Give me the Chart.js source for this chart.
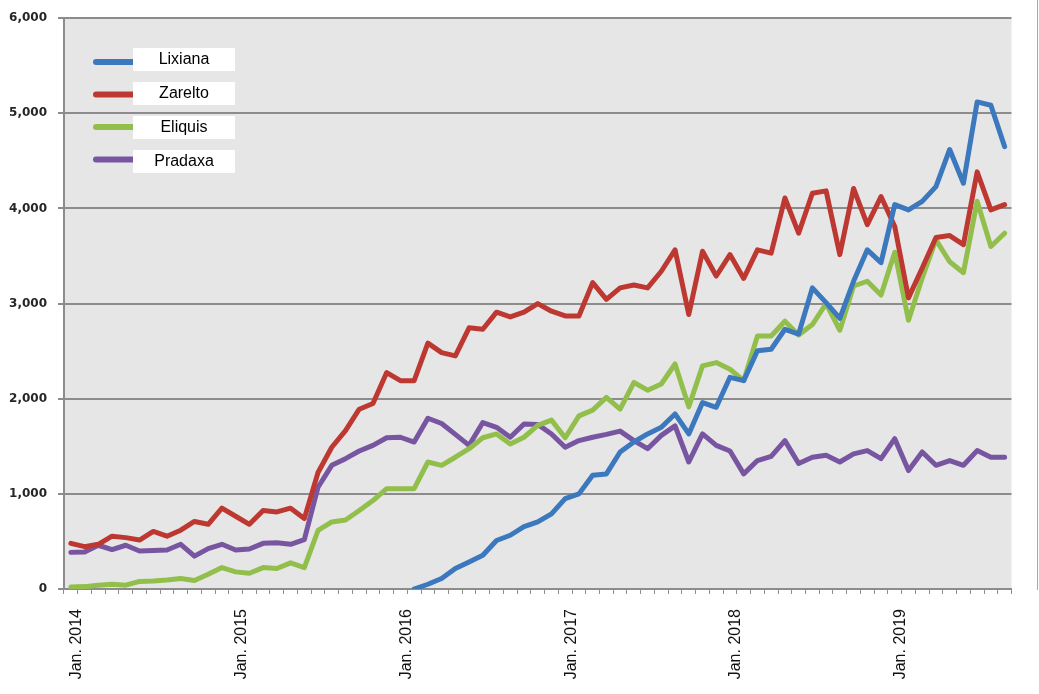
<!DOCTYPE html>
<html>
<head>
<meta charset="utf-8">
<title>Monthly volume – Lixiana, Zarelto, Eliquis, Pradaxa</title>
<script src="https://cdn.jsdelivr.net/npm/chart.js@4.4.1/dist/chart.umd.min.js"></script>
<style>
    html, body { margin: 0; padding: 0; background: #fff; }
    #chart { display: block; }
</style>
</head>
<body>
<canvas id="chart" width="1039" height="694"></canvas>
<script>
// Months, Jan 2014 – Sep 2019
const categories = [
    'Jan. 2014', 'Feb. 2014', 'Mar. 2014', 'Apr. 2014', 'May 2014', 'Jun. 2014', 'Jul. 2014', 'Aug. 2014', 'Sep. 2014', 'Oct. 2014', 'Nov. 2014', 'Dec. 2014',
    'Jan. 2015', 'Feb. 2015', 'Mar. 2015', 'Apr. 2015', 'May 2015', 'Jun. 2015', 'Jul. 2015', 'Aug. 2015', 'Sep. 2015', 'Oct. 2015', 'Nov. 2015', 'Dec. 2015',
    'Jan. 2016', 'Feb. 2016', 'Mar. 2016', 'Apr. 2016', 'May 2016', 'Jun. 2016', 'Jul. 2016', 'Aug. 2016', 'Sep. 2016', 'Oct. 2016', 'Nov. 2016', 'Dec. 2016',
    'Jan. 2017', 'Feb. 2017', 'Mar. 2017', 'Apr. 2017', 'May 2017', 'Jun. 2017', 'Jul. 2017', 'Aug. 2017', 'Sep. 2017', 'Oct. 2017', 'Nov. 2017', 'Dec. 2017',
    'Jan. 2018', 'Feb. 2018', 'Mar. 2018', 'Apr. 2018', 'May 2018', 'Jun. 2018', 'Jul. 2018', 'Aug. 2018', 'Sep. 2018', 'Oct. 2018', 'Nov. 2018', 'Dec. 2018',
    'Jan. 2019', 'Feb. 2019', 'Mar. 2019', 'Apr. 2019', 'May 2019', 'Jun. 2019', 'Jul. 2019', 'Aug. 2019', 'Sep. 2019'
];

// Lixiana only starts in Feb 2016
const lixiana = [
    null, null, null, null, null, null, null, null, null, null, null, null,
    null, null, null, null, null, null, null, null, null, null, null, null,
    null, 0, 50, 110, 215, 285, 355, 510, 565, 655, 705, 790,
    950, 1000, 1195, 1210, 1440, 1545, 1630, 1700, 1840, 1630, 1960, 1910,
    2225, 2190, 2505, 2520, 2730, 2680, 3165, 3010, 2845, 3235, 3565, 3430,
    4040, 3985, 4075, 4230, 4620, 4265, 5120, 5085, 4650
];
const zarelto = [
    480, 445, 470, 555, 540, 515, 605, 555, 618, 710, 680, 850,
    765, 680, 825, 810, 850, 740, 1225, 1490, 1665, 1890, 1950, 2275,
    2190, 2190, 2585, 2485, 2450, 2745, 2730, 2910, 2860, 2910, 3000, 2920,
    2870, 2870, 3220, 3045, 3165, 3195, 3165, 3340, 3565, 2885, 3550, 3290,
    3515, 3265, 3565, 3530, 4110, 3740, 4160, 4185, 3515, 4210, 3830, 4125,
    3810, 3060, 3375, 3695, 3715, 3620, 4385, 3985, 4040
];
const eliquis = [
    20, 25, 40, 50, 40, 80, 85, 95, 110, 90, 155, 225,
    180, 165, 225, 215, 275, 225, 615, 705, 725, 825, 930, 1055,
    1055, 1055, 1335, 1300, 1385, 1475, 1590, 1630, 1525, 1595, 1720, 1775,
    1590, 1820, 1880, 2015, 1890, 2170, 2090, 2155, 2365, 1915, 2345, 2380,
    2310, 2190, 2660, 2660, 2815, 2670, 2780, 3000, 2720, 3185, 3235, 3090,
    3540, 2825, 3270, 3670, 3440, 3325, 4075, 3600, 3740
];
const pradaxa = [
    385, 390, 460, 415, 460, 400, 405, 410, 470, 345, 425, 470,
    410, 420, 480, 485, 470, 520, 1070, 1300, 1370, 1450, 1510, 1590,
    1595, 1545, 1795, 1740, 1625, 1510, 1750, 1700, 1595, 1735, 1730, 1630,
    1490, 1560, 1595, 1625, 1660, 1560, 1475, 1615, 1715, 1335, 1630, 1510,
    1450, 1210, 1350, 1395, 1560, 1320, 1385, 1405, 1335, 1420, 1455, 1370,
    1580, 1245, 1440, 1300, 1350, 1300, 1455, 1385, 1385
];

const seriesNames = ['Lixiana', 'Zarelto', 'Eliquis', 'Pradaxa'];
const seriesColors = ['#3c78be', '#be3832', '#92bf4b', '#7855a0'];
const yTicks = [0, 1000, 2000, 3000, 4000, 5000, 6000];

// target plot rectangle, measured on the reference
const PLOT = { left: 64, top: 16, right: 1012, bottom: 589 };
const GRID = '#8c8c8c';

const plotBackground = {
    id: 'plotBackground',
    beforeDraw(chart) {
        const { ctx, chartArea: a } = chart;
        ctx.save();
        ctx.fillStyle = '#e6e6e6';
        ctx.fillRect(a.left, a.top, a.right - a.left, a.bottom - a.top);
        // edge of the outer frame
        ctx.strokeStyle = '#a6a6a6';
        ctx.lineWidth = 1;
        ctx.beginPath();
        ctx.moveTo(1037.5, 0);
        ctx.lineTo(1037.5, 590);
        ctx.stroke();
        ctx.restore();
    }
};

// legend sits inside the plot: line sample + white label box
const boxLegend = {
    id: 'boxLegend',
    afterDatasetsDraw(chart) {
        const ctx = chart.ctx;
        ctx.save();
        chart.data.datasets.forEach((ds, k) => {
            const lineY = 62 + k * 32.5;
            const boxY = 48 + k * 34;
            ctx.strokeStyle = ds.borderColor;
            ctx.lineWidth = 6;
            ctx.lineCap = 'round';
            ctx.beginPath();
            ctx.moveTo(96, lineY);
            ctx.lineTo(136, lineY);
            ctx.stroke();
            ctx.fillStyle = '#fff';
            ctx.fillRect(133, boxY, 102, 23);
            ctx.fillStyle = '#000';
            ctx.font = '16px "Liberation Sans", Arial, sans-serif';
            ctx.textAlign = 'center';
            ctx.textBaseline = 'middle';
            ctx.fillText(ds.label, 184, boxY + 12);
        });
        ctx.restore();
    }
};

const seriesData = [lixiana, zarelto, eliquis, pradaxa];

const chart = new Chart(document.getElementById('chart'), {
    type: 'line',
    data: {
        labels: categories,
        datasets: seriesNames.map((name, k) => ({
            label: name,
            data: seriesData[k],
            borderColor: seriesColors[k],
            backgroundColor: seriesColors[k],
            borderWidth: 5,
            borderJoinStyle: 'round',
            borderCapStyle: 'round',
            pointRadius: 0,
            tension: 0,
            spanGaps: false
        }))
    },
    options: {
        responsive: false,
        animation: false,
        devicePixelRatio: 1,
        layout: { padding: { top: 16, right: 27, bottom: 0, left: 0 } },
        plugins: {
            legend: { display: false },
            tooltip: { enabled: false }
        },
        scales: {
            x: {
                type: 'category',
                offset: true,
                afterFit(scale) { scale.height = 694 - PLOT.bottom; },
                grid: {
                    offset: true,
                    drawOnChartArea: false,
                    drawTicks: true,
                    tickLength: 5,
                    color: GRID,
                    lineWidth: 1
                },
                border: { display: true, color: GRID, width: 2 },
                ticks: {
                    autoSkip: false,
                    maxRotation: 90,
                    minRotation: 90,
                    labelOffset: 6,
                    padding: 15,
                    color: '#111',
                    font: { family: '"Liberation Sans", Arial, sans-serif', size: 16 },
                    callback(value) {
                        const label = this.getLabelForValue(value);
                        return label.startsWith('Jan.') ? label : '';
                    }
                }
            },
            y: {
                min: yTicks[0],
                max: yTicks[yTicks.length - 1],
                afterFit(scale) { scale.width = PLOT.left; },
                afterBuildTicks(scale) { scale.ticks = yTicks.map(v => ({ value: v })); },
                grid: { color: GRID, lineWidth: 2, tickLength: 6 },
                border: { display: true, color: GRID, width: 2 },
                ticks: {
                    padding: 11,
                    color: '#262626',
                    font: { family: '"DejaVu Sans", Verdana, sans-serif', size: 12, weight: 'bold' },
                    callback: v => v.toLocaleString('en-US')
                }
            }
        }
    },
    plugins: [plotBackground, boxLegend]
});

// nudge the layout padding so the plot rectangle lands where the reference has it
const area = chart.chartArea;
const pad = chart.options.layout.padding;
pad.top += PLOT.top - area.top;
pad.right += area.right - PLOT.right;
pad.bottom += area.bottom - PLOT.bottom;
chart.update();
</script>
</body>
</html>
